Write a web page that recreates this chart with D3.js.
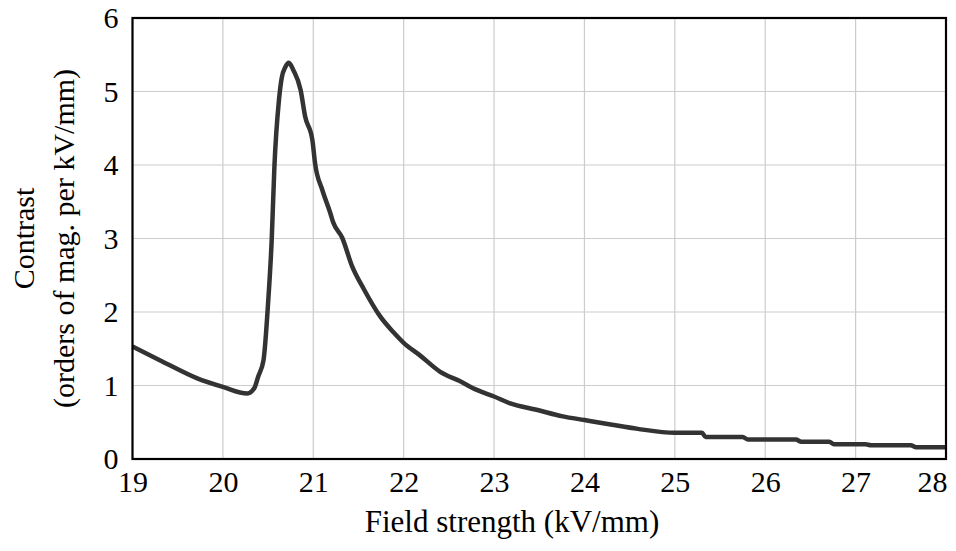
<!DOCTYPE html>
<html>
<head>
<meta charset="utf-8">
<script src="https://cdn.jsdelivr.net/npm/d3@7"></script>
<style>
    body { margin: 0; background: #fff; }
    text { font-family: "Liberation Serif", "Times New Roman", serif; fill: #000; }
</style>
</head>
<body>
<div id="chart"></div>
<script>

// Data
// =========================
var fieldStrength = [19.00, 19.34, 19.71, 20.00, 20.27, 20.35, 20.39, 20.45, 20.50, 20.54,
    20.57, 20.62, 20.65, 20.69, 20.73, 20.78, 20.86, 20.91, 20.99, 21.02,
    21.10, 21.19, 21.22, 21.32, 21.43, 21.56, 21.74, 21.89, 22.00, 22.18,
    22.40, 22.62, 22.81, 23.00, 23.17, 23.47, 23.76, 24.00, 24.29, 24.59,
    25.00, 25.30, 25.34, 25.75, 25.81, 26.34, 26.40, 26.71, 26.76, 27.11,
    27.17, 27.61, 27.67, 28.00];

var contrast = [1.53, 1.32, 1.10, 0.98, 0.89, 0.97, 1.12, 1.35, 2.12, 2.98,
    3.98, 4.88, 5.18, 5.33, 5.39, 5.29, 5.02, 4.66, 4.34, 4.02,
    3.66, 3.34, 3.22, 3.01, 2.62, 2.31, 1.94, 1.72, 1.58, 1.41,
    1.19, 1.06, 0.94, 0.85, 0.76, 0.67, 0.58, 0.53, 0.47, 0.41,
    0.356, 0.356, 0.30, 0.30, 0.264, 0.264, 0.233, 0.233, 0.20, 0.20,
    0.187, 0.187, 0.16, 0.16];

var xTicks = [19, 20, 21, 22, 23, 24, 25, 26, 27, 28];
var yTicks = [0, 1, 2, 3, 4, 5, 6];

var xTitle = "Field strength (kV/mm)";
var yTitle = ["Contrast", "(orders of mag. per kV/mm)"];

// Chart setup
// ===========
var svgWidth = 956;
var svgHeight = 551;

var margin = { top: 18, right: 10, bottom: 92, left: 132.5 };

var chartWidth = svgWidth - margin.left - margin.right;
var chartHeight = svgHeight - margin.top - margin.bottom;

var svg = d3.select("#chart")
    .append("svg")
    .attr("width", svgWidth)
    .attr("height", svgHeight);

var chartGroup = svg.append("g")
    .attr("transform", `translate(${margin.left}, ${margin.top})`);

// Scales
var xScale = d3.scaleLinear().domain([19, 28]).range([0, chartWidth]);
var yScale = d3.scaleLinear().domain([0, 6]).range([chartHeight, 0]);

// Gridlines
chartGroup.append("g")
    .selectAll("line")
    .data(xTicks)
    .enter()
    .append("line")
    .attr("x1", d => xScale(d))
    .attr("x2", d => xScale(d))
    .attr("y1", 0)
    .attr("y2", chartHeight)
    .attr("stroke", "#cccccc")
    .attr("stroke-width", 1.2);

chartGroup.append("g")
    .selectAll("line")
    .data(yTicks)
    .enter()
    .append("line")
    .attr("x1", 0)
    .attr("x2", chartWidth)
    .attr("y1", d => yScale(d))
    .attr("y2", d => yScale(d))
    .attr("stroke", "#cccccc")
    .attr("stroke-width", 1.2);

// Axes (labels only, no tick marks)
var bottomAxis = d3.axisBottom(xScale)
    .tickValues(xTicks)
    .tickSize(0)
    .tickPadding(12)
    .tickFormat(d3.format("d"));

var leftAxis = d3.axisLeft(yScale)
    .tickValues(yTicks)
    .tickSize(0)
    .tickPadding(14)
    .tickFormat(d3.format("d"));

var xAxis = chartGroup.append("g")
    .attr("transform", `translate(0, ${chartHeight})`)
    .call(bottomAxis);

var yAxis = chartGroup.append("g")
    .call(leftAxis);

[xAxis, yAxis].forEach(ax => {
    ax.select(".domain").remove();
    ax.selectAll("text")
        .attr("font-size", 30)
        .attr("font-family", "Liberation Serif, Times New Roman, serif")
        .attr("fill", "#000");
});

// last x label sits flush with the right frame
xAxis.selectAll("text")
    .filter(d => d === xTicks[xTicks.length - 1])
    .attr("text-anchor", "end")
    .attr("x", 1);

// Curve
var line = d3.line()
    .x((d, i) => xScale(fieldStrength[i]))
    .y(d => yScale(d))
    .curve(d3.curveMonotoneX);

chartGroup.append("path")
    .datum(contrast)
    .attr("d", line)
    .attr("fill", "none")
    .attr("stroke", "#333333")
    .attr("stroke-width", 4.5)
    .attr("stroke-linejoin", "round");

// Frame
chartGroup.append("rect")
    .attr("x", 0)
    .attr("y", 0)
    .attr("width", chartWidth)
    .attr("height", chartHeight)
    .attr("fill", "none")
    .attr("stroke", "#000")
    .attr("stroke-width", 2.2);

// Axis titles
svg.append("text")
    .attr("x", 512)
    .attr("y", 532)
    .attr("text-anchor", "middle")
    .attr("font-size", 31)
    .text(xTitle);

var yLabel = svg.append("text")
    .attr("transform", `translate(0, ${margin.top + chartHeight / 2}) rotate(-90)`)
    .attr("text-anchor", "middle")
    .attr("font-size", 30);

yLabel.append("tspan")
    .attr("x", 0)
    .attr("y", 34)
    .text(yTitle[0]);

yLabel.append("tspan")
    .attr("x", 0)
    .attr("y", 74)
    .text(yTitle[1]);

</script>
</body>
</html>
